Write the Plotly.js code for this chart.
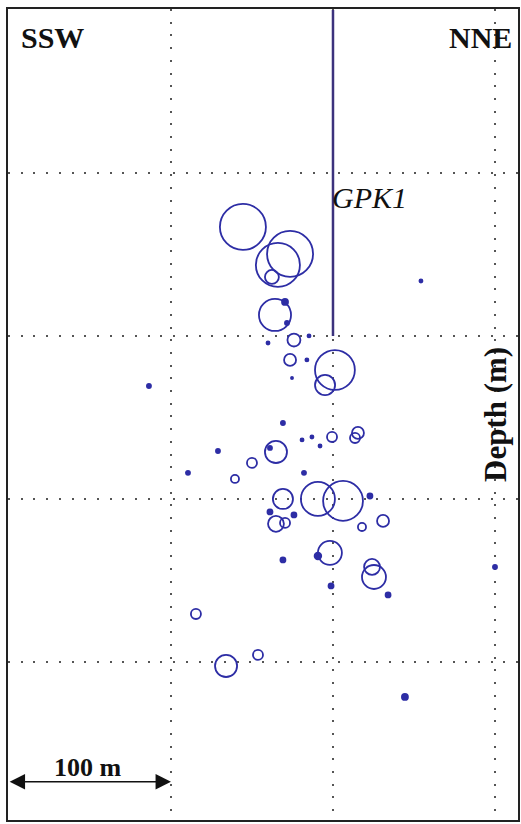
<!DOCTYPE html>
<html>
<head>
<meta charset="utf-8">
<script src="https://cdn.plot.ly/plotly-3.0.1.min.js"></script>
<style>html,body{margin:0;padding:0;background:#fff;}#chart{width:521px;height:824px;}</style>
</head>
<body>
<div id="chart"></div>
<script>
// Events: open circles (source radius in metres)
const openX = [144.4,173.5,166.0,162.3,164.2,175.9,173.5,201.2,195.1,199.4,215.4,213.6,164.8,150.0,139.5,169.1,190.7,206.2,164.8,170.4,217.9,230.9,198.1,224.1,225.3,115.4,134.0,153.7];
const openDepth = [133.1,149.7,156.4,163.8,187.1,202.5,214.7,220.9,230.1,262.0,259.5,262.6,271.2,277.9,287.7,300.0,300.0,301.2,315.3,314.7,317.2,313.5,333.1,341.7,347.9,370.6,402.5,395.7];
const openRadius = [14.2,14.2,13.6,4.3,9.9,4.0,3.7,12.3,6.2,3.1,3.7,3.1,6.8,3.1,2.5,6.2,10.5,12.3,4.9,3.1,2.5,3.7,7.4,4.9,7.4,3.1,6.8,3.1];

// Small events: filled dots
const dotX = [170.4,171.6,185.2,159.9,183.9,174.7,86.4,254.3,169.1,180.9,187.0,192.0,161.1,129.0,110.5,182.1,222.8,161.1,175.9,169.1,190.7,234.0,198.8,244.4,300.0];
const dotDepth = [179.1,192.0,200.0,204.3,214.7,225.8,230.7,166.3,253.4,263.8,262.0,267.5,268.7,270.6,284.0,284.0,298.2,308.0,309.8,337.4,335.0,358.9,353.4,421.5,341.7];
const dotRadius = [2.4,1.8,1.5,1.5,1.5,1.2,1.8,1.5,1.8,1.5,1.5,1.5,1.8,1.8,1.8,1.8,2.1,2.1,2.1,2.1,2.6,2.1,2.1,2.4,1.8];

// Well trajectory GPK1
const wellX = [200, 200];
const wellDepth = [0, 200];

// Grid positions (m)
const xGrid = [100, 200, 300];
const yGrid = [100, 200, 300, 400];

const W = 521, H = 824;
const margin = {l: 8, r: 3, t: 9, b: 4};
const xRange = [-0.6, 314.2];
const yRange = [497, -0.6];
const pxPerM = (W - margin.l - margin.r) / (xRange[1] - xRange[0]);

const blue = 'rgb(45,45,165)';

const traces = [
  {x: wellX, y: wellDepth, mode: 'lines', line: {color: 'rgb(60,50,125)', width: 2.5}, hoverinfo: 'skip'},
  {x: openX, y: openDepth, mode: 'markers',
   marker: {symbol: 'circle-open', color: blue, opacity: 1, size: openRadius.map(r => 2 * r * pxPerM), line: {width: 1.8}}},
  {x: dotX, y: dotDepth, mode: 'markers',
   marker: {symbol: 'circle', color: blue, opacity: 1, size: dotRadius.map(r => 2 * r * pxPerM), line: {width: 0}}}
];

const gridStyle = {showgrid: true, gridcolor: '#555', gridwidth: 2, griddash: '2px,10.7px',
  showticklabels: false, ticks: '', zeroline: false, showline: true, mirror: true,
  linecolor: '#222', linewidth: 2, fixedrange: true};

const serif = 'Liberation Serif, Times New Roman, serif';
function px2paperX(px) { return (px - margin.l) / (W - margin.l - margin.r); }
function px2paperY(py) { return (H - margin.b - py) / (H - margin.t - margin.b); }

const layout = {
  width: W, height: H, margin: margin, showlegend: false,
  paper_bgcolor: '#fff', plot_bgcolor: '#fff',
  xaxis: Object.assign({range: xRange, tickvals: xGrid}, gridStyle),
  yaxis: Object.assign({range: yRange, tickvals: yGrid}, gridStyle),
  annotations: [
    {xref: 'paper', yref: 'paper', x: px2paperX(52), y: px2paperY(37), text: '<b>SSW</b>', showarrow: false,
     font: {family: serif, size: 30, color: '#111'}, xanchor: 'center', yanchor: 'middle'},
    {xref: 'paper', yref: 'paper', x: px2paperX(480), y: px2paperY(37), text: '<b>NNE</b>', showarrow: false,
     font: {family: serif, size: 30, color: '#111'}, xanchor: 'center', yanchor: 'middle'},
    {xref: 'paper', yref: 'paper', x: px2paperX(369), y: px2paperY(197), text: '<i>GPK1</i>', showarrow: false,
     font: {family: serif, size: 30, color: '#111'}, xanchor: 'center', yanchor: 'middle'},
    {xref: 'paper', yref: 'paper', x: px2paperX(496), y: px2paperY(415), text: '<b>Depth (m)</b>', showarrow: false,
     textangle: -90, font: {family: serif, size: 31, color: '#111'}, xanchor: 'center', yanchor: 'middle'},
    {xref: 'paper', yref: 'paper', x: px2paperX(88), y: px2paperY(767), text: '<b>100 m</b>', showarrow: false,
     font: {family: serif, size: 26, color: '#111'}, xanchor: 'center', yanchor: 'middle'},
    {xref: 'x', yref: 'y', axref: 'x', ayref: 'y', x: 100, y: 473.5, ax: -0.5, ay: 473.5, text: '',
     showarrow: true, arrowside: 'end+start', arrowhead: 2, arrowsize: 2.2, arrowwidth: 1.4,
     arrowcolor: '#111', standoff: 0, startstandoff: 0}
  ]
};

Plotly.newPlot('chart', traces, layout, {displayModeBar: false, staticPlot: true});
</script>
</body>
</html>
